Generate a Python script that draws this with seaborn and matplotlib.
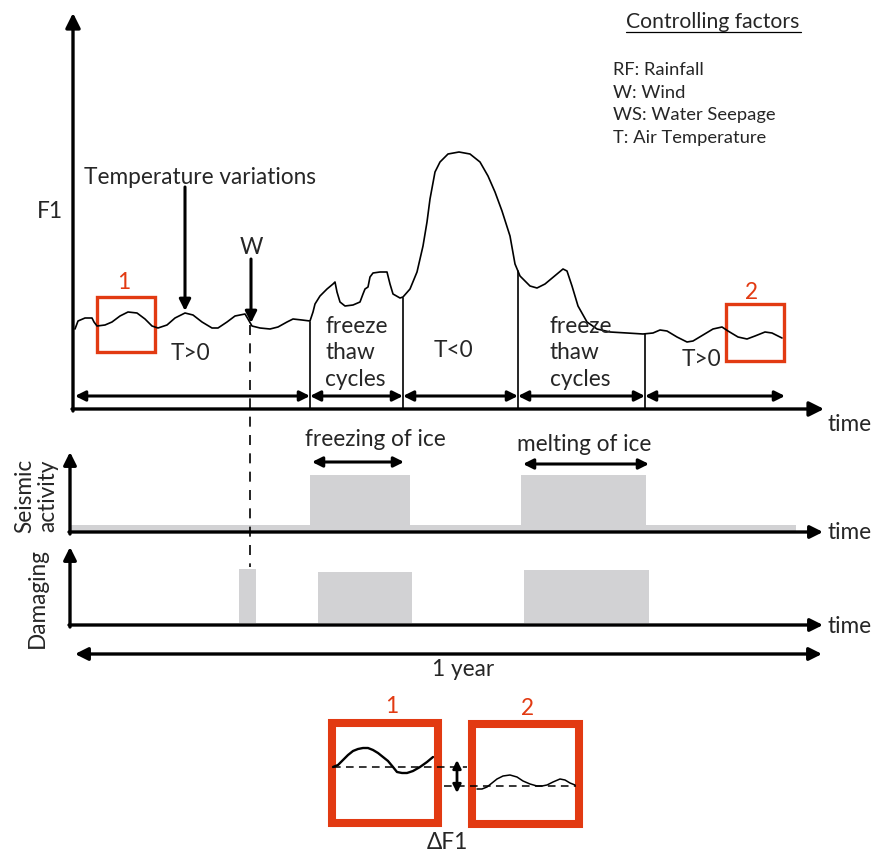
import numpy as np
import pandas as pd
import seaborn as sns
import matplotlib
matplotlib.use("Agg")
import matplotlib.pyplot as plt
from matplotlib.patches import Rectangle

sns.set_theme(style="white")
plt.rcParams['font.family'] = ['Lato', 'DejaVu Sans']

# ---------------- data (drawing units: time -> x, level -> y) ----------------
curve_t = [75, 78, 85, 92, 94, 97, 105, 112, 120, 128, 137, 145, 152, 158, 167, 175, 185, 193,
           202, 212, 218, 227, 235, 245, 248, 252, 260, 270, 278, 287, 293, 302, 310,
           313, 315, 320, 327, 333, 335, 337, 340, 345, 353, 360, 363, 365, 368, 370, 373,
           380, 387, 390, 393, 400, 403,
           410, 417, 423, 427, 430, 435, 440, 448, 459, 470, 480, 488, 495, 502, 510, 515,
           520, 530, 537, 545, 557, 563, 567, 572, 578, 587, 597, 610, 627, 643, 653,
           660, 667, 677, 687, 693, 703, 713, 722, 728, 738, 747, 755, 765, 772, 782]
curve_f = [330, 322, 319, 319, 323, 327, 326, 323, 317, 313, 314, 320, 327, 329, 326, 319, 314, 316,
           323, 329, 329, 323, 317, 315, 320, 327, 329, 330, 328, 323, 320, 321, 322,
           313, 305, 297, 290, 285, 283, 293, 303, 307, 306, 303, 295, 290, 288, 278, 274,
           273, 273, 285, 295, 299, 298,
           290, 273, 247, 223, 200, 173, 163, 155, 153, 155, 163, 177, 193, 212, 237, 265,
           277, 287, 289, 285, 275, 270, 272, 287, 307, 323, 330, 333, 334, 335, 334,
           331, 332, 338, 343, 342, 336, 330, 328, 332, 338, 340, 337, 333, 334, 339]

boundaries = [310, 403, 518, 645]
boundary_tops = [323, 299, 272, 335]
segment_edges = [75, 310, 403, 518, 645, 785]
segment_labels = ["T>0", "freeze\nthaw\ncycles", "T<0", "freeze\nthaw\ncycles", "T>0"]

seis_base = (70, 796, 526)
seis_blocks_start = [310, 521]
seis_blocks_end = [410, 646]
seis_blocks_top = [476, 476]

dmg_blocks_start = [239, 318, 524]
dmg_blocks_end = [256, 412, 649]
dmg_blocks_top = [570, 573, 571]

inset1_t = [333, 338, 343, 348, 353, 358, 363, 368, 373, 378, 383, 388, 393, 397, 402, 407,
            413, 420, 427, 433]
inset1_f = [768, 766, 761, 756, 752, 750, 749, 749, 751, 754, 758, 762, 768, 773, 774, 774,
            772, 768, 763, 758]
inset2_t = [477, 482, 487, 492, 497, 503, 510, 517, 523, 530, 537, 542, 547, 553, 560, 565,
            570, 575]
inset2_f = [790, 790, 788, 784, 780, 777, 776, 778, 782, 785, 787, 787, 786, 783, 780, 781,
            784, 786]

factors = ["RF: Rainfall", "W: Wind", "WS: Water Seepage", "T: Air Temperature"]

RED = "#e23a12"
GRAY = "#d2d2d4"
K = "black"
FS = 16.3

fig = plt.figure(figsize=(8.75, 8.54), dpi=100)
ax = fig.add_axes([0, 0, 1, 1])
ax.set_xlim(0, 875)
ax.set_ylim(854, 0)
ax.axis("off")

def arrow(x0, y0, x1, y1, style="-|>", lw=2.2, ms=16):
    ax.annotate("", xy=(x1, y1), xytext=(x0, y0),
                arrowprops=dict(arrowstyle=style, lw=lw, color=K, mutation_scale=ms,
                                shrinkA=0, shrinkB=0))

# ---------------- main panel ----------------
arrow(73, 412, 73, 14, ms=22, lw=2.4)
arrow(72, 410, 824, 410, ms=22, lw=2.4)
ax.text(850, 425, "time", fontsize=FS, ha="center", va="center")
ax.text(50, 212, "F1", fontsize=FS, ha="center", va="center")

df = pd.DataFrame({"t": curve_t, "f": curve_f})
sns.lineplot(data=df, x="t", y="f", sort=False, color=K, lw=1.2, ax=ax, estimator=None)

for b, top in zip(boundaries, boundary_tops):
    ax.plot([b, b], [410, top], color=K, lw=1.2)
for a, b in zip(segment_edges[:-1], segment_edges[1:]):
    arrow(a, 397, b, 397, style="<|-|>", lw=2.2, ms=15)

ax.text(190, 354, segment_labels[0], fontsize=FS, ha="center", va="center")
ax.text(325, 353, segment_labels[1], fontsize=FS, ha="left", va="center", linespacing=1.3)
ax.text(453, 351, segment_labels[2], fontsize=FS, ha="center", va="center")
ax.text(550, 353, segment_labels[3], fontsize=FS, ha="left", va="center", linespacing=1.3)
ax.text(701, 360, segment_labels[4], fontsize=FS, ha="center", va="center")

ax.text(200, 177, "Temperature variations", fontsize=FS, ha="center", va="center")
arrow(185, 188, 185, 312, lw=2.2, ms=17)
ax.text(251, 247, "W", fontsize=FS, ha="center", va="center")
arrow(251, 260, 251, 324, lw=2.2, ms=17)
ax.plot([250, 250], [326, 568], color=K, lw=1.2, ls=(0, (6, 5)))

ax.add_patch(Rectangle((97, 298), 58, 55, fill=False, ec=RED, lw=2.4))
ax.text(124, 283, "1", color=RED, fontsize=FS, ha="center", va="center")
ax.add_patch(Rectangle((726, 305), 58, 57, fill=False, ec=RED, lw=2.4))
ax.text(752, 293, "2", color=RED, fontsize=FS, ha="center", va="center")

# controlling factors
ax.text(626, 22, "Controlling factors", fontsize=15.2, ha="left", va="center")
ax.plot([626, 801], [33, 33], color=K, lw=0.9)
for i, f in enumerate(factors):
    ax.text(613, 70 + i * 22.5, f, fontsize=13.2, ha="left", va="center")

# ---------------- seismic panel ----------------
ax.add_patch(Rectangle((seis_base[0], seis_base[2]), seis_base[1] - seis_base[0], 533 - seis_base[2],
                       fc=GRAY, ec="none"))
for s, e, t in zip(seis_blocks_start, seis_blocks_end, seis_blocks_top):
    ax.add_patch(Rectangle((s, t), e - s, 533 - t, fc=GRAY, ec="none"))
arrow(70, 535, 70, 453, ms=19, lw=2.4)
arrow(69, 533, 823, 533, ms=19, lw=2.4)
ax.text(850, 533, "time", fontsize=FS, ha="center", va="center")
ax.text(36, 496, "Seismic\nactivity", fontsize=FS, rotation=90, ha="center", va="center",
        multialignment="center", linespacing=1.1)
ax.text(375, 440, "freezing of ice", fontsize=FS, ha="center", va="center")
arrow(312, 463, 404, 463, style="<|-|>", lw=2.2, ms=15)
ax.text(584, 445, "melting of ice", fontsize=FS, ha="center", va="center")
arrow(523, 465, 649, 465, style="<|-|>", lw=2.2, ms=15)

# ---------------- damaging panel ----------------
for s, e, t in zip(dmg_blocks_start, dmg_blocks_end, dmg_blocks_top):
    ax.add_patch(Rectangle((s, t), e - s, 624 - t, fc=GRAY, ec="none"))
arrow(70, 628, 70, 548, ms=19, lw=2.4)
arrow(69, 626, 823, 626, ms=19, lw=2.4)
ax.text(850, 627, "time", fontsize=FS, ha="center", va="center")
ax.text(37, 598, "Damaging", fontsize=FS, rotation=90, ha="center", va="center")

arrow(75, 655, 822, 655, style="<|-|>", lw=2.4, ms=19)
ax.text(463, 670, "1 year", fontsize=FS, ha="center", va="center")

# ---------------- inset ----------------
ax.add_patch(Rectangle((332, 724), 106, 100, fill=False, ec=RED, lw=5.8))
ax.add_patch(Rectangle((471.5, 725), 107, 100, fill=False, ec=RED, lw=5.8))
ax.text(392, 707, "1", color=RED, fontsize=FS, ha="center", va="center")
ax.text(528, 709, "2", color=RED, fontsize=FS, ha="center", va="center")
sns.lineplot(x=inset1_t, y=inset1_f, sort=False, color=K, lw=1.7, ax=ax, estimator=None)
sns.lineplot(x=inset2_t, y=inset2_f, sort=False, color=K, lw=1.1, ax=ax, estimator=None)
ax.plot([333, 467], [768, 768], color=K, lw=1.1, ls=(0, (5, 3.5)))
ax.plot([444, 576], [787, 787], color=K, lw=1.1, ls=(0, (5, 3.5)))
arrow(457, 761, 457, 794, style="<|-|>", lw=2.0, ms=12)
ax.text(447, 843, "ΔF1", fontsize=FS, ha="center", va="center")

ax.set_xlim(0, 875)
ax.set_ylim(854, 0)
ax.set_xlabel("")
ax.set_ylabel("")
fig.savefig("out.png", dpi=100)
